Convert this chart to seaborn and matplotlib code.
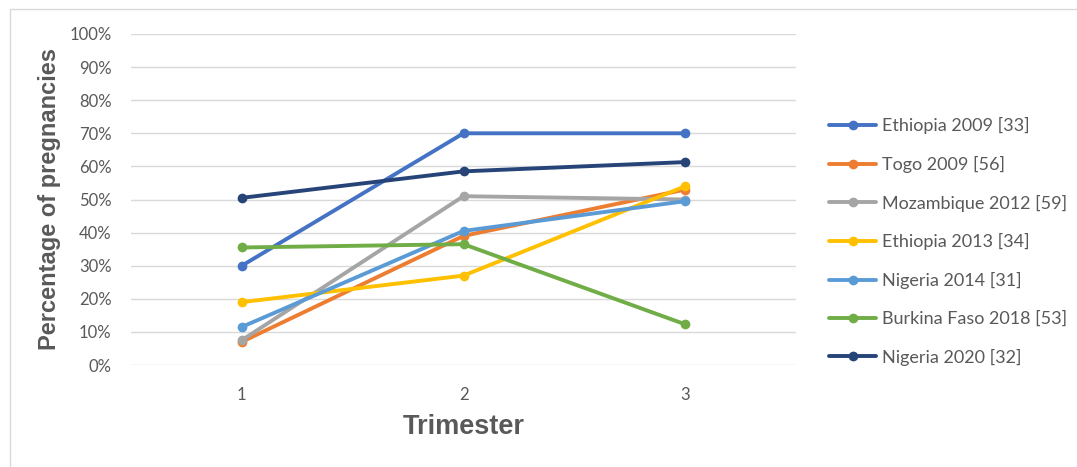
import matplotlib
matplotlib.use("Agg")
import matplotlib.pyplot as plt
from matplotlib.patches import Rectangle
from matplotlib.ticker import PercentFormatter
import pandas as pd
import seaborn as sns

trimesters = [1, 2, 3]
ethiopia_2009 = [30, 70, 70]
togo_2009 = [7, 39, 53]
mozambique_2012 = [7.5, 51, 50]
ethiopia_2013 = [19, 27, 54]
nigeria_2014 = [11.5, 40.5, 49.5]
burkina_faso_2018 = [35.5, 36.5, 12.3]
nigeria_2020 = [50.5, 58.5, 61.3]

studies = [
    "Ethiopia 2009 [33]",
    "Togo 2009 [56]",
    "Mozambique 2012 [59]",
    "Ethiopia 2013 [34]",
    "Nigeria 2014 [31]",
    "Burkina Faso 2018 [53]",
    "Nigeria 2020 [32]",
]
series = [ethiopia_2009, togo_2009, mozambique_2012, ethiopia_2013,
          nigeria_2014, burkina_faso_2018, nigeria_2020]
colors = ["#4472C4", "#ED7D31", "#A5A5A5", "#FFC000",
          "#5B9BD5", "#70AD47", "#264478"]

rows = []
for name, vals in zip(studies, series):
    for t, v in zip(trimesters, vals):
        rows.append({"Trimester": t, "Percent": v, "Study": name})
df = pd.DataFrame(rows)

sns.set_theme(style="white")
plt.rcParams["font.family"] = ["Lato", "DejaVu Sans"]

text_gray = "#595959"
fig = plt.figure(figsize=(10.77, 4.67), dpi=100)
ax = fig.add_axes([131 / 1077, 1 - 365 / 467, 665 / 1077, 331 / 467])

# light chart border
fig.patches.append(Rectangle((10 / 1077, -0.1), 1.2, (458 / 467) + 0.1,
                             transform=fig.transFigure, fill=False,
                             edgecolor="#D9D9D9", linewidth=1.0))

sns.lineplot(data=df, x="Trimester", y="Percent", hue="Study",
             hue_order=studies, palette=colors, marker="o",
             markersize=7, markeredgewidth=0, linewidth=2.8,
             ax=ax, legend=True)

ax.set_xlim(0.5, 3.5)
ax.set_ylim(0, 100)
ax.set_xticks(trimesters)
ax.set_xticklabels([str(t) for t in trimesters])
ax.set_yticks(range(0, 101, 10))
ax.yaxis.set_major_formatter(PercentFormatter(decimals=0))
ax.grid(axis="y", color="#D9D9D9", linewidth=1.0)
ax.set_axisbelow(True)
for s in ax.spines.values():
    s.set_visible(False)
ax.tick_params(axis="both", length=0, labelsize=12, colors=text_gray)
ax.tick_params(axis="y", pad=14)
ax.tick_params(axis="x", pad=16)

ax.set_xlabel("Trimester", fontsize=19.5, fontweight="bold", color=text_gray,
              family="Liberation Sans", labelpad=8)
ax.set_ylabel("Percentage of pregnancies", fontsize=17, fontweight="bold",
              color=text_gray, family="Liberation Sans", labelpad=6)

handles, labels = ax.get_legend_handles_labels()
ax.legend(handles, labels, loc="upper left",
          bbox_to_anchor=(822 / 1077, 1 - 110 / 467),
          bbox_transform=fig.transFigure, frameon=False,
          fontsize=13, labelcolor=text_gray, labelspacing=1.2,
          handlelength=2.6, handletextpad=0.3, borderaxespad=0)

fig.savefig("out.png", dpi=100)
